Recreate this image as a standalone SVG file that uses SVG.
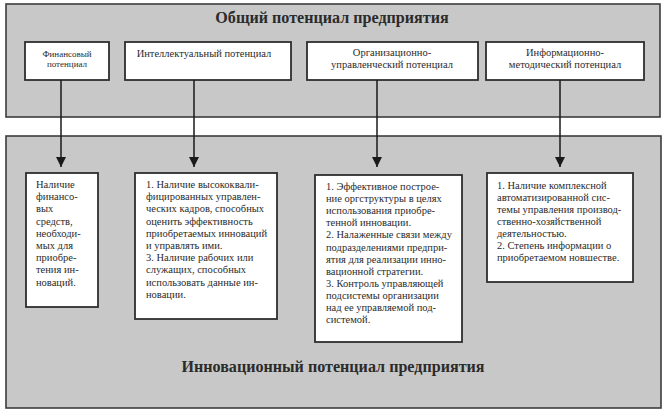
<svg xmlns="http://www.w3.org/2000/svg" width="665" height="419" viewBox="0 0 665 419">
<defs>
<style>
.panel{fill:#c8c8c8;stroke:#3c3c3c;stroke-width:1.6}
.box{fill:#ffffff;stroke:#2e2e2e;stroke-width:1.8}
.t{font-family:"Liberation Serif","Times New Roman",serif;fill:#2b2b2b}
.title{font-size:16.1px;font-weight:bold;text-anchor:middle}
.lbl{font-size:10.5px;text-anchor:middle}
.body{font-size:10.5px}
.conn{stroke:#1a1a1a;stroke-width:1.5;fill:none}
</style>
<marker id="arr" markerWidth="10" markerHeight="10" refX="10" refY="5" orient="auto" markerUnits="userSpaceOnUse">
<path d="M0,0 L10,5 L0,10 Z" fill="#1a1a1a"/>
</marker>
</defs>
<rect width="665" height="419" fill="#ffffff"/>

<g id="general">
<rect class="panel" x="6" y="4" width="654" height="113"/>
<text class="t title" x="332" y="23">Общий потенциал предприятия</text>
</g>

<g id="innovative">
<rect class="panel" x="6" y="136" width="655" height="272"/>
<text class="t title" x="333" y="372">Инновационный потенциал предприятия</text>
</g>

<g id="fin-top">
<rect class="box" x="25" y="42" width="84" height="38"/>
<text class="t lbl" style="font-size:9px" x="67" y="57">Финансовый<tspan x="67" y="67">потенциал</tspan></text>
</g>

<g id="intel-top">
<rect class="box" x="125" y="42" width="166" height="38"/>
<text class="t lbl" x="204" y="57">Интеллектуальный потенциал</text>
</g>

<g id="org-top">
<rect class="box" x="307" y="42" width="171" height="38"/>
<text class="t lbl" x="392" y="56">Организационно-<tspan x="392" y="68">управленческий потенциал</tspan></text>
</g>

<g id="info-top">
<rect class="box" x="486" y="42" width="158" height="38"/>
<text class="t lbl" x="565" y="56">Информационно-<tspan x="565" y="68">методический потенциал</tspan></text>
</g>

<g id="connectors">
<line class="conn" x1="61" y1="80" x2="61" y2="167" marker-end="url(#arr)"/>
<line class="conn" x1="194" y1="80" x2="194" y2="167" marker-end="url(#arr)"/>
<line class="conn" x1="377" y1="80" x2="377" y2="167" marker-end="url(#arr)"/>
<line class="conn" x1="560" y1="80" x2="560" y2="167" marker-end="url(#arr)"/>
</g>

<g id="fin-bottom">
<rect class="box" x="26" y="173" width="72" height="134"/>
<text class="t body" x="36" y="188">Наличие<tspan x="36" dy="12.2">финансо-</tspan><tspan x="36" dy="12.2">вых</tspan><tspan x="36" dy="12.2">средств,</tspan><tspan x="36" dy="12.2">необходи-</tspan><tspan x="36" dy="12.2">мых для</tspan><tspan x="36" dy="12.2">приобре-</tspan><tspan x="36" dy="12.2">тения ин-</tspan><tspan x="36" dy="12.2">новаций.</tspan></text>
</g>

<g id="intel-bottom">
<rect class="box" x="135" y="173" width="142" height="146"/>
<text class="t body" x="146" y="188">1. Наличие высококвали-<tspan x="146" dy="12.2">фицированных управлен-</tspan><tspan x="146" dy="12.2">ческих кадров, способных</tspan><tspan x="146" dy="12.2">оценить эффективность</tspan><tspan x="146" dy="12.2">приобретаемых инноваций</tspan><tspan x="146" dy="12.2">и управлять ими.</tspan><tspan x="146" dy="12.2">3. Наличие рабочих или</tspan><tspan x="146" dy="12.2">служащих, способных</tspan><tspan x="146" dy="12.2">использовать данные ин-</tspan><tspan x="146" dy="12.2">новации.</tspan></text>
</g>

<g id="org-bottom">
<rect class="box" x="315" y="175" width="147" height="167"/>
<text class="t body" x="326" y="190">1. Эффективное построе-<tspan x="326" dy="12.1">ние оргструктуры в целях</tspan><tspan x="326" dy="12.1">использования приобре-</tspan><tspan x="326" dy="12.1">тенной инновации.</tspan><tspan x="326" dy="12.1">2. Налаженные связи между</tspan><tspan x="326" dy="12.1">подразделениями предпри-</tspan><tspan x="326" dy="12.1">ятия для реализации инно-</tspan><tspan x="326" dy="12.1">вационной стратегии.</tspan><tspan x="326" dy="12.1">3. Контроль управляющей</tspan><tspan x="326" dy="12.1">подсистемы организации</tspan><tspan x="326" dy="12.1">над ее управляемой под-</tspan><tspan x="326" dy="12.1">системой.</tspan></text>
</g>

<g id="info-bottom">
<rect class="box" x="487" y="173" width="146" height="109"/>
<text class="t body" x="497" y="189">1. Наличие комплексной<tspan x="497" dy="12">автоматизированной сис-</tspan><tspan x="497" dy="12">темы управления производ-</tspan><tspan x="497" dy="12">ственно-хозяйственной</tspan><tspan x="497" dy="12">деятельностью.</tspan><tspan x="497" dy="12">2. Степень информации о</tspan><tspan x="497" dy="12">приобретаемом новшестве.</tspan></text>
</g>
</svg>
